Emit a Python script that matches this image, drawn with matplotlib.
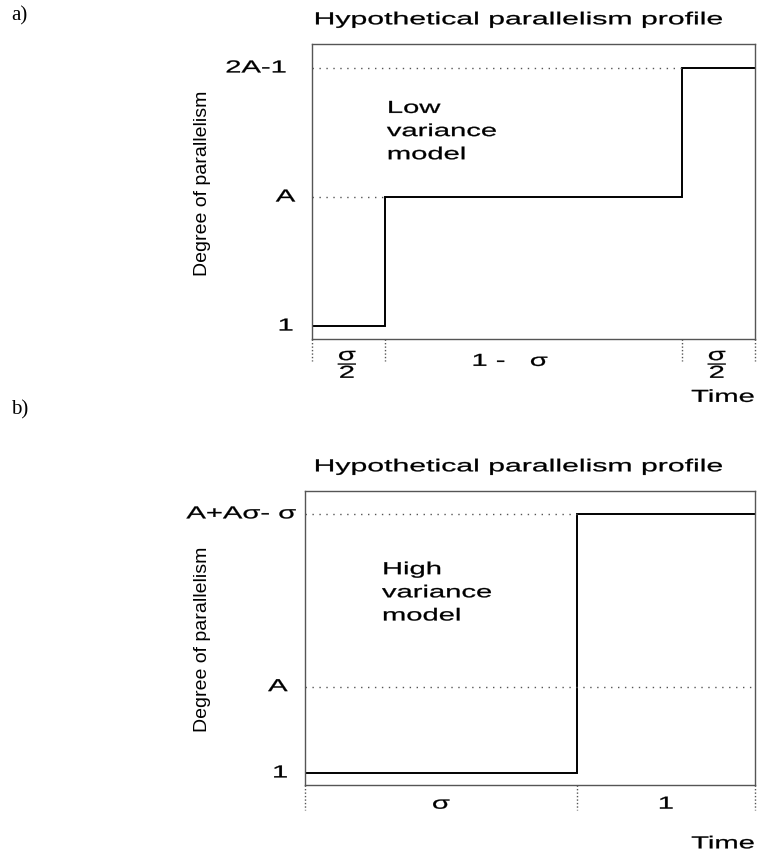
import matplotlib
matplotlib.use("Agg")
import matplotlib.pyplot as plt
import matplotlib.transforms as mtransforms
from matplotlib.patheffects import AbstractPathEffect

plt.rcParams['font.family'] = ['Liberation Sans', 'DejaVu Sans']
plt.rcParams['mathtext.fontset'] = 'custom'
plt.rcParams['mathtext.rm'] = 'Liberation Sans'
plt.rcParams['mathtext.it'] = 'Liberation Sans'
plt.rcParams['mathtext.sf'] = 'Liberation Sans'

# - DATA - #
# panel a: low variance model (sigma = 0.33, A = 3)
a_breaks = [0.0, 0.165, 0.835, 1.0]
a_levels = [1, 3, 5]
a_ticks = [1, 3, 5]
a_ticklabels = ['1', 'A', '2A-1']
a_seglabels = [r'$\dfrac{\mathrm{σ}}{2}$', '1 -   σ', r'$\dfrac{\mathrm{σ}}{2}$']
a_guide_ends = [0.0, 0.165, 0.835]   # dotted guide runs to where the step reaches it

# panel b: high variance model
b_breaks = [0.0, 0.604, 1.0]
b_levels = [1, 7]
b_ticks = [1, 3, 7]
b_ticklabels = ['1', 'A', 'A+Aσ- σ']
b_seglabels = ['σ', '1']
b_guide_ends = [0.0, 1.0, 0.604]

title = "Hypothetical parallelism profile"
ylab = "Degree of parallelism"

# - STYLE - #
SX = 1.68          # horizontal stretch of the original lettering
FS = 12.5
GRAY = '#555555'


class Widen(AbstractPathEffect):
    """stretch text horizontally around its anchor point (slightly emboldened)"""
    def __init__(self, txt, sx, lw=0.2):
        super().__init__()
        self.txt = txt
        self.sx = sx
        self.lw = lw

    def draw_path(self, renderer, gc, tpath, affine, rgbFace=None):
        x0 = self.txt.get_transform().transform(self.txt.get_position())[0]
        aff = affine + mtransforms.Affine2D().translate(-x0, 0).scale(self.sx, 1).translate(x0, 0)
        gc0 = renderer.new_gc()
        gc0.copy_properties(gc)
        gc0.set_linewidth(self.lw)
        if rgbFace is not None:
            gc0.set_foreground(rgbFace)
        renderer.draw_path(gc0, tpath, aff, rgbFace)
        gc0.restore()


def wide(t, sx=SX):
    t.set_path_effects([Widen(t, sx)])
    return t


fig = plt.figure(figsize=(7.58, 8.59), dpi=100)


def panel(rect, breaks, levels, ticks, ticklabels, tick_pads, guide_ends,
          seglabels, seg_dx, seg_y, ylim, note, note_xy, tick_len, time_y):
    ax = fig.add_axes(rect)
    xs, ys = [], []
    for i, lv in enumerate(levels):
        xs += [breaks[i], breaks[i + 1]]
        ys += [lv, lv]
    ax.plot(xs, ys, color='black', lw=1.4, solid_joinstyle='miter')
    for t, xe in zip(ticks, guide_ends):
        if xe > 0:
            ax.plot([0, xe], [t, t], color=GRAY, lw=1, ls=(0, (1, 4)))
    ax.set_xlim(breaks[0], breaks[-1])
    ax.set_ylim(*ylim)
    ax.set_xticks([])
    ax.set_yticks([])
    for s in ax.spines.values():
        s.set_color(GRAY)
        s.set_linewidth(1)
    # level labels on the left
    ytrans = mtransforms.blended_transform_factory(ax.transAxes, ax.transData)
    for t, lab, pad in zip(ticks, ticklabels, tick_pads):
        tr = mtransforms.offset_copy(ytrans, fig, x=-pad, y=0, units='points')
        wide(ax.text(0, t, lab, transform=tr, ha='right', va='center',
                     fontsize=FS))
    # dotted marks below the axis and segment lengths
    xtrans = mtransforms.blended_transform_factory(ax.transData, ax.transAxes)
    for b in breaks:
        ax.plot([b, b], [0, -tick_len], color=GRAY, lw=1, ls=(0, (1, 1.5)),
                transform=xtrans, clip_on=False)
    for i, lab in enumerate(seglabels):
        mid = (breaks[i] + breaks[i + 1]) / 2
        tr = mtransforms.offset_copy(xtrans, fig, x=seg_dx[i], y=0, units='points')
        wide(ax.text(mid, seg_y[i], lab, transform=tr, ha='center',
                     va='center', fontsize=FS))
    wide(ax.text(1.0, time_y, 'Time', transform=ax.transAxes, ha='right',
                 va='center', fontsize=FS))
    wide(ax.text(note_xy[0], note_xy[1], note, transform=ax.transAxes,
                 ha='left', va='top', fontsize=FS, linespacing=1.68))
    return ax


ax1 = panel([0.4116, 0.6054, 0.5844, 0.3434], a_breaks, a_levels, a_ticks,
            a_ticklabels, [13, 12, 18], a_guide_ends,
            a_seglabels, [0, -17, 0], [-0.088, -0.076, -0.088],
            (0.80, 5.372), "Low\nvariance\nmodel", (0.169, 0.807),
            0.075, -0.198)
ax2 = panel([0.4024, 0.0861, 0.5937, 0.3423], b_breaks, b_levels, b_ticks,
            b_ticklabels, [12, 12.5, 6], b_guide_ends,
            b_seglabels, [0, 0], [-0.065, -0.065],
            (0.72, 7.53), "High\nvariance\nmodel", (0.171, 0.758),
            0.085, -0.20)

for yb in (0.9717, 0.4513):
    wide(fig.text(0.6847, yb, title, ha='center', va='baseline',
                  fontsize=FS), 1.74)

fig.text(0.2678, 0.787, ylab, rotation=90, ha='center', va='center',
         fontsize=14)
fig.text(0.2678, 0.256, ylab, rotation=90, ha='center', va='center',
         fontsize=14)

fig.text(0.0145, 0.9756, 'a)', fontsize=15, family='Liberation Serif',
         va='baseline')
fig.text(0.0145, 0.518, 'b)', fontsize=15, family='Liberation Serif',
         va='baseline')

fig.savefig('out.png', dpi=100)
